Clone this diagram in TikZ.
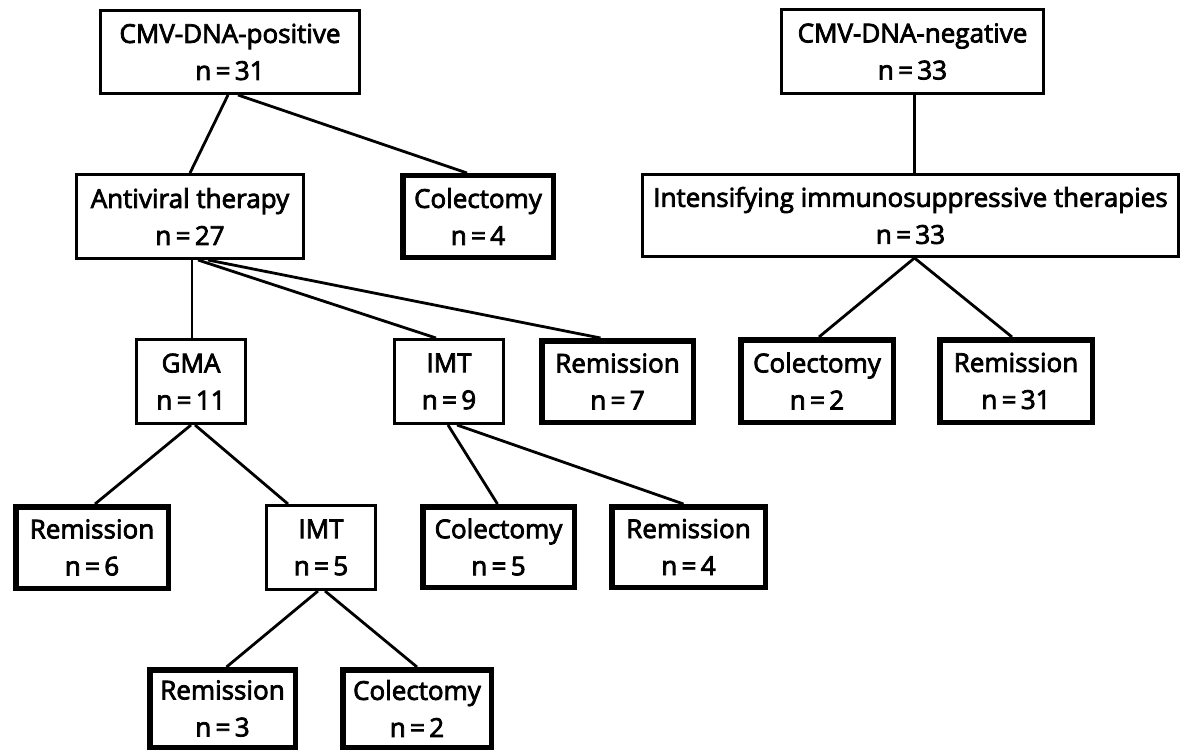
\documentclass[tikz,border=0pt]{standalone}
\usepackage{fontspec}
\setmainfont{Open Sans}[FakeBold=3]
\begin{document}
\begin{tikzpicture}[x=1pt,y=-1pt,
  box/.style={draw=black, line width=2.8pt, fill=white, inner sep=0pt, align=center,
    font=\fontsize{26}{37}\selectfont},
  endbox/.style={box, line width=5.5pt},
  conn/.style={draw=black, line width=2.8pt}]
\useasboundingbox (0,0) rectangle (1182,754);
% nodes (centre, outer size minus line width)
\node[box, minimum width=259.2pt, minimum height=83.2pt] (pos) at (230,52) {CMV-DNA-positive\\n\,=\,31};
\node[box, minimum width=262.2pt, minimum height=84.2pt] (neg) at (912.5,51.5) {CMV-DNA-negative\\n\,=\,33};
\node[box, minimum width=227.2pt, minimum height=84.2pt] (anti) at (190,216.5) {Antiviral therapy\\n\,=\,27};
\node[endbox, minimum width=150.5pt, minimum height=81.5pt] (col4) at (478,216.5) {Colectomy\\n\,=\,4};
\node[box, minimum width=536.2pt, minimum height=82.2pt] (intens) at (910.5,215.5) {Intensifying immunosuppressive therapies\\n\,=\,33};
\node[box, minimum width=109.2pt, minimum height=84.2pt] (gma) at (191,381.5) {GMA\\n\,=\,11};
\node[box, minimum width=109.2pt, minimum height=84.2pt] (imt9) at (449,381.5) {IMT\\n\,=\,9};
\node[endbox, minimum width=151.5pt, minimum height=81.5pt] (rem7) at (617.5,381.5) {Remission\\n\,=\,7};
\node[endbox, minimum width=152.5pt, minimum height=82.5pt] (col2r) at (817,381) {Colectomy\\n\,=\,2};
\node[endbox, minimum width=152.5pt, minimum height=82.5pt] (rem31) at (1016,381) {Remission\\n\,=\,31};
\node[endbox, minimum width=152.5pt, minimum height=81.5pt] (rem6) at (92,547.5) {Remission\\n\,=\,6};
\node[box, minimum width=109.2pt, minimum height=84.2pt] (imt5) at (321,547.5) {IMT\\n\,=\,5};
\node[endbox, minimum width=151.5pt, minimum height=80.5pt] (col5) at (498.5,547) {Colectomy\\n\,=\,5};
\node[endbox, minimum width=153.5pt, minimum height=80.5pt] (rem4) at (688.5,547) {Remission\\n\,=\,4};
\node[endbox, minimum width=145.5pt, minimum height=77.5pt] (rem3) at (222.5,708.5) {Remission\\n\,=\,3};
\node[endbox, minimum width=148.5pt, minimum height=77.5pt] (col2b) at (417,708.5) {Colectomy\\n\,=\,2};
% connectors
\draw[conn] ([xshift=-2pt]pos.south) -- (anti.north);
\draw[conn] ([xshift=8pt]pos.south) -- ([xshift=-11pt]col4.north);
\draw[conn] ([xshift=2pt]anti.south) -- ([xshift=1pt]gma.north);
\draw[conn] ([xshift=8pt]anti.south) -- ([xshift=-13pt]imt9.north);
\draw[conn] ([xshift=18pt]anti.south) -- ([xshift=-17pt]rem7.north);
\draw[conn] ([xshift=2pt]neg.south) -- ([xshift=2pt]neg.south |- intens.north);
\draw[conn] ([xshift=4pt]intens.south) -- ([xshift=2pt]col2r.north);
\draw[conn] ([xshift=4pt]intens.south) -- ([xshift=-4pt]rem31.north);
\draw[conn] (gma.south) -- ([xshift=3pt]rem6.north);
\draw[conn] ([xshift=4pt]gma.south) -- ([xshift=-33pt]imt5.north);
\draw[conn] ([xshift=-1pt]imt9.south) -- ([xshift=-1pt]col5.north);
\draw[conn] ([xshift=8pt]imt9.south) -- ([xshift=-5pt]rem4.north);
\draw[conn] ([xshift=-3pt]imt5.south) -- ([xshift=4pt]rem3.north);
\draw[conn] ([xshift=4pt]imt5.south) -- (col2b.north);
\end{tikzpicture}
\end{document}
